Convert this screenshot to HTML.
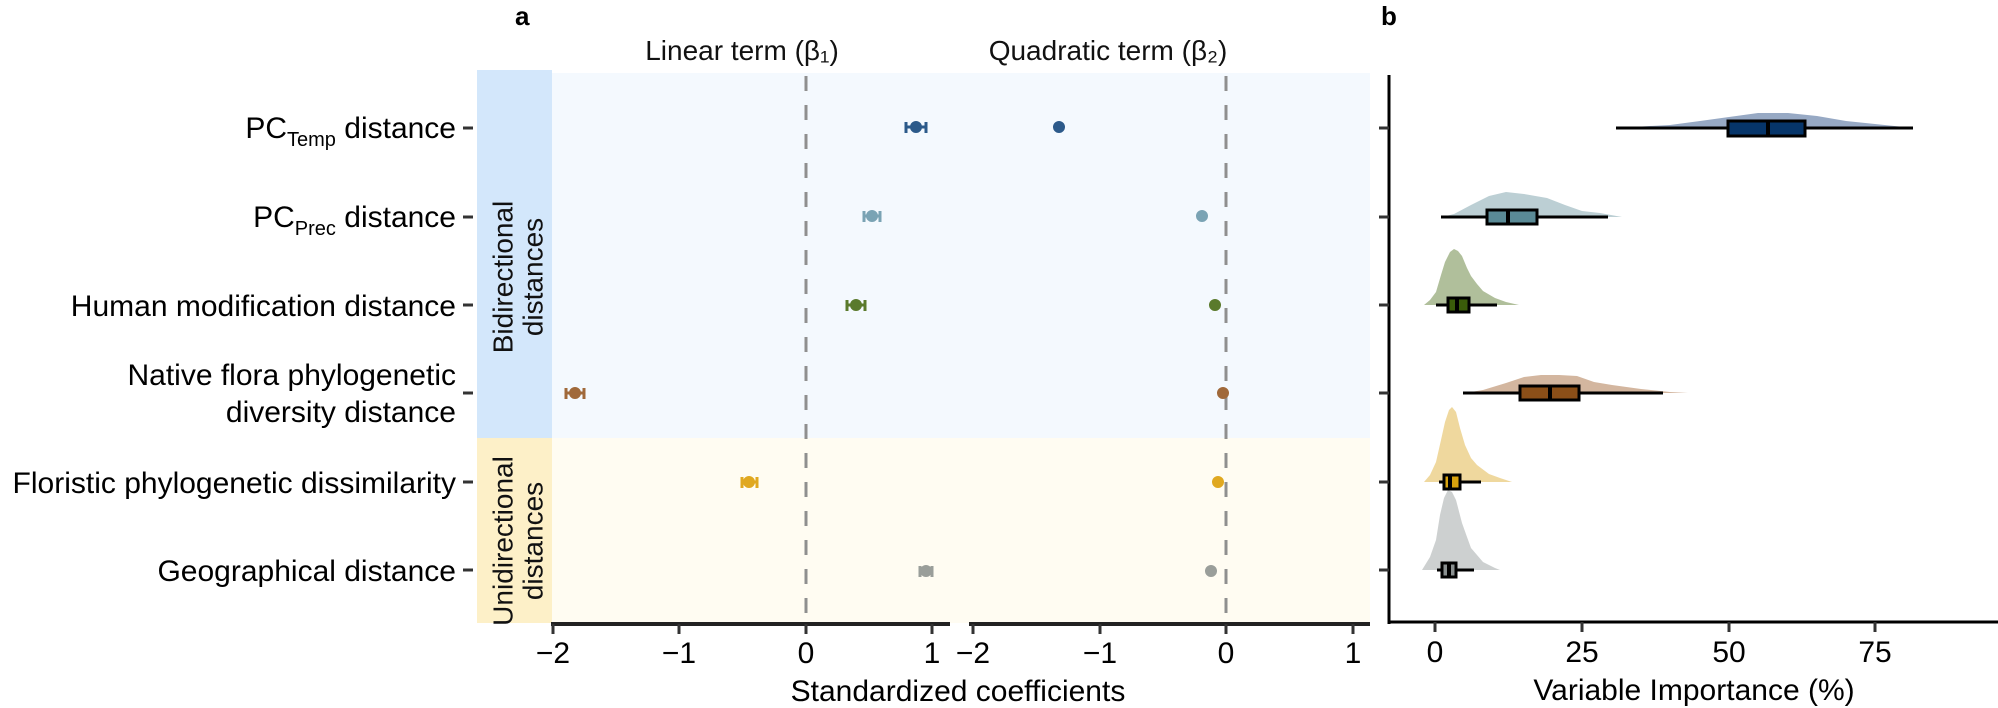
<!DOCTYPE html>
<html><head><meta charset="utf-8"><style>
html,body{margin:0;padding:0;background:#fff;}
svg{display:block;font-family:"Liberation Sans",Arial,sans-serif;}
</style></head><body>
<svg width="1998" height="708" viewBox="0 0 1998 708" xmlns="http://www.w3.org/2000/svg">
<!-- panel a backgrounds -->
<rect x="477" y="70" width="75" height="368" fill="#d3e7fb"/>
<rect x="477" y="438" width="75" height="185" fill="#fdf0c8"/>
<rect x="552" y="73" width="818" height="365" fill="#f4f9fe"/>
<rect x="552" y="438" width="818" height="185" fill="#fffcf2"/>
<text font-size="28" fill="#111" transform="translate(503,277) rotate(-90)" text-anchor="middle" dominant-baseline="central">Bidirectional</text>
<text font-size="28" fill="#111" transform="translate(533,277) rotate(-90)" text-anchor="middle" dominant-baseline="central">distances</text>
<text font-size="28" fill="#111" transform="translate(503,541) rotate(-90)" text-anchor="middle" dominant-baseline="central">Unidirectional</text>
<text font-size="28" fill="#111" transform="translate(533,541) rotate(-90)" text-anchor="middle" dominant-baseline="central">distances</text>
<!-- dashed zero lines -->
<line x1="806" y1="76" x2="806" y2="623" stroke="#8f8f8f" stroke-width="3" stroke-dasharray="15,14"/>
<line x1="1226" y1="76" x2="1226" y2="623" stroke="#8f8f8f" stroke-width="3" stroke-dasharray="15,14"/>
<!-- facet titles -->
<text x="742" y="60" font-size="28" text-anchor="middle" fill="#111">Linear term (β₁)</text>
<text x="1108" y="60" font-size="28" text-anchor="middle" fill="#111">Quadratic term (β₂)</text>
<text x="515" y="25" font-size="26" font-weight="bold">a</text>
<text x="1381" y="25" font-size="26" font-weight="bold">b</text>
<!-- y labels -->
<g font-size="30" fill="#000" text-anchor="end">
<text x="456" y="138">PC<tspan font-size="20" dy="8">Temp</tspan><tspan dy="-8"> distance</tspan></text>
<text x="456" y="227">PC<tspan font-size="20" dy="8">Prec</tspan><tspan dy="-8"> distance</tspan></text>
<text x="456" y="316">Human modification distance</text>
<text x="456" y="385">Native flora phylogenetic</text>
<text x="456" y="422">diversity distance</text>
<text x="456" y="493">Floristic phylogenetic dissimilarity</text>
<text x="456" y="581">Geographical distance</text>
</g>
<g stroke="#333" stroke-width="3">
<line x1="463" y1="128" x2="473" y2="128"/><line x1="463" y1="217" x2="473" y2="217"/>
<line x1="463" y1="305" x2="473" y2="305"/><line x1="463" y1="393" x2="473" y2="393"/>
<line x1="463" y1="482" x2="473" y2="482"/><line x1="463" y1="570" x2="473" y2="570"/>
</g>
<!-- x axes panel a -->
<g stroke="#222" stroke-width="4">
<line x1="551" y1="624" x2="950" y2="624"/>
<line x1="969" y1="624" x2="1370" y2="624"/>
</g>
<g stroke="#333" stroke-width="3">
<line x1="553" y1="624" x2="553" y2="634"/><line x1="679" y1="624" x2="679" y2="634"/>
<line x1="806" y1="624" x2="806" y2="634"/><line x1="932" y1="624" x2="932" y2="634"/>
<line x1="973" y1="624" x2="973" y2="634"/><line x1="1100" y1="624" x2="1100" y2="634"/>
<line x1="1226" y1="624" x2="1226" y2="634"/><line x1="1353" y1="624" x2="1353" y2="634"/>
</g>
<g font-size="30" text-anchor="middle" fill="#000">
<text x="553" y="663">−2</text><text x="679" y="663">−1</text><text x="806" y="663">0</text><text x="932" y="663">1</text>
<text x="973" y="663">−2</text><text x="1100" y="663">−1</text><text x="1226" y="663">0</text><text x="1353" y="663">1</text>
<text x="958" y="701">Standardized coefficients</text>
</g>
<!-- points -->
<g stroke-width="3">
<g stroke="#2c5a8a" fill="#2c5a8a"><line x1="906" y1="127" x2="926" y2="127"/><line x1="906" y1="122" x2="906" y2="133"/><line x1="926" y1="122" x2="926" y2="133"/><circle cx="916" cy="127" r="4.5"/><circle cx="1059" cy="127" r="4.5"/></g>
<g stroke="#7aa3b4" fill="#7aa3b4"><line x1="864" y1="216" x2="880" y2="216"/><line x1="864" y1="211" x2="864" y2="222"/><line x1="880" y1="211" x2="880" y2="222"/><circle cx="872" cy="216" r="4.5"/><circle cx="1202" cy="216" r="4.5"/></g>
<g stroke="#5a7a2c" fill="#5a7a2c"><line x1="847" y1="305" x2="865" y2="305"/><line x1="847" y1="300" x2="847" y2="311"/><line x1="865" y1="300" x2="865" y2="311"/><circle cx="856" cy="305" r="4.5"/><circle cx="1215" cy="305" r="4.5"/></g>
<g stroke="#a0693a" fill="#a0693a"><line x1="566" y1="393" x2="584" y2="393"/><line x1="566" y1="388" x2="566" y2="399"/><line x1="584" y1="388" x2="584" y2="399"/><circle cx="575" cy="393" r="4.5"/><circle cx="1223" cy="393" r="4.5"/></g>
<g stroke="#e0a820" fill="#e0a820"><line x1="742" y1="482" x2="757" y2="482"/><line x1="742" y1="477" x2="742" y2="488"/><line x1="757" y1="477" x2="757" y2="488"/><circle cx="749" cy="482" r="4.5"/><circle cx="1218" cy="482" r="4.5"/></g>
<g stroke="#9a9e9a" fill="#9a9e9a"><line x1="920" y1="571" x2="932" y2="571"/><line x1="920" y1="566" x2="920" y2="577"/><line x1="932" y1="566" x2="932" y2="577"/><circle cx="926" cy="571" r="4.5"/><circle cx="1211" cy="571" r="4.5"/></g>
</g>
<!-- panel b densities -->
<polygon fill="#97a9c4" points="1618,128 1650,126 1670,125 1700,121 1729,117 1758,113 1788,113 1817,116 1846,121 1875,124 1904,127 1912,128"/>
<polygon fill="#bccfd4" points="1442,217 1454,214 1471,205 1489,196 1506,192 1524,194 1547,198 1565,205 1582,211 1600,213 1622,217"/>
<polygon fill="#b0bf9b" points="1424,305 1430,300 1436,292 1441,275 1445,262 1450,252 1454,249 1458,251 1462,256 1467,268 1471,276 1477,284 1483,291 1495,298 1506,302 1519,305"/>
<polygon fill="#d3b69f" points="1465,393 1483,390 1506,383 1524,377 1541,375 1559,375 1577,376 1594,382 1612,385 1641,389 1670,392 1688,393"/>
<polygon fill="#efd89e" points="1424,482 1430,475 1436,462 1441,440 1445,422 1449,410 1452,407 1456,412 1460,428 1465,445 1471,458 1477,465 1489,474 1500,478 1512,482"/>
<polygon fill="#cdd0d0" points="1422,570 1430,557 1436,540 1440,515 1444,498 1448,490 1452,492 1456,500 1462,523 1467,537 1471,548 1483,562 1495,568 1500,570"/>
<!-- boxes -->
<g stroke="#000" stroke-width="3">
<line x1="1616" y1="128" x2="1913" y2="128"/><rect x="1728" y="121" width="77" height="15" fill="#06356a"/><line x1="1768" y1="121" x2="1768" y2="136" stroke-width="4"/>
<line x1="1441" y1="217" x2="1608" y2="217"/><rect x="1487" y="210" width="50" height="14" fill="#5a8a96"/><line x1="1508" y1="210" x2="1508" y2="224" stroke-width="4"/>
<line x1="1436" y1="305" x2="1497" y2="305"/><rect x="1448" y="298" width="21" height="14" fill="#3a5c0a"/><line x1="1457" y1="298" x2="1457" y2="312" stroke-width="4"/>
<line x1="1463" y1="393" x2="1663" y2="393"/><rect x="1520" y="386" width="59" height="14" fill="#8b4f18"/><line x1="1550" y1="386" x2="1550" y2="400" stroke-width="4"/>
<line x1="1439" y1="482" x2="1481" y2="482"/><rect x="1444" y="475" width="16" height="14" fill="#d8a20e"/><line x1="1450" y1="475" x2="1450" y2="489" stroke-width="4"/>
<line x1="1437" y1="570" x2="1474" y2="570"/><rect x="1442" y="563" width="14" height="14" fill="#8a9090"/><line x1="1449" y1="563" x2="1449" y2="577" stroke-width="4"/>
</g>
<!-- panel b axes -->
<line x1="1389" y1="75" x2="1389" y2="624" stroke="#000" stroke-width="3"/>
<line x1="1388" y1="622" x2="1998" y2="622" stroke="#000" stroke-width="3"/>
<g stroke="#333" stroke-width="3">
<line x1="1379" y1="128" x2="1389" y2="128"/><line x1="1379" y1="217" x2="1389" y2="217"/>
<line x1="1379" y1="305" x2="1389" y2="305"/><line x1="1379" y1="393" x2="1389" y2="393"/>
<line x1="1379" y1="482" x2="1389" y2="482"/><line x1="1379" y1="570" x2="1389" y2="570"/>
<line x1="1435" y1="622" x2="1435" y2="632"/><line x1="1582" y1="622" x2="1582" y2="632"/>
<line x1="1729" y1="622" x2="1729" y2="632"/><line x1="1875" y1="622" x2="1875" y2="632"/>
</g>
<g font-size="30" text-anchor="middle" fill="#000">
<text x="1435" y="662">0</text><text x="1582" y="662">25</text><text x="1729" y="662">50</text><text x="1875" y="662">75</text>
<text x="1694" y="700">Variable Importance (%)</text>
</g>
</svg>
</body></html>
